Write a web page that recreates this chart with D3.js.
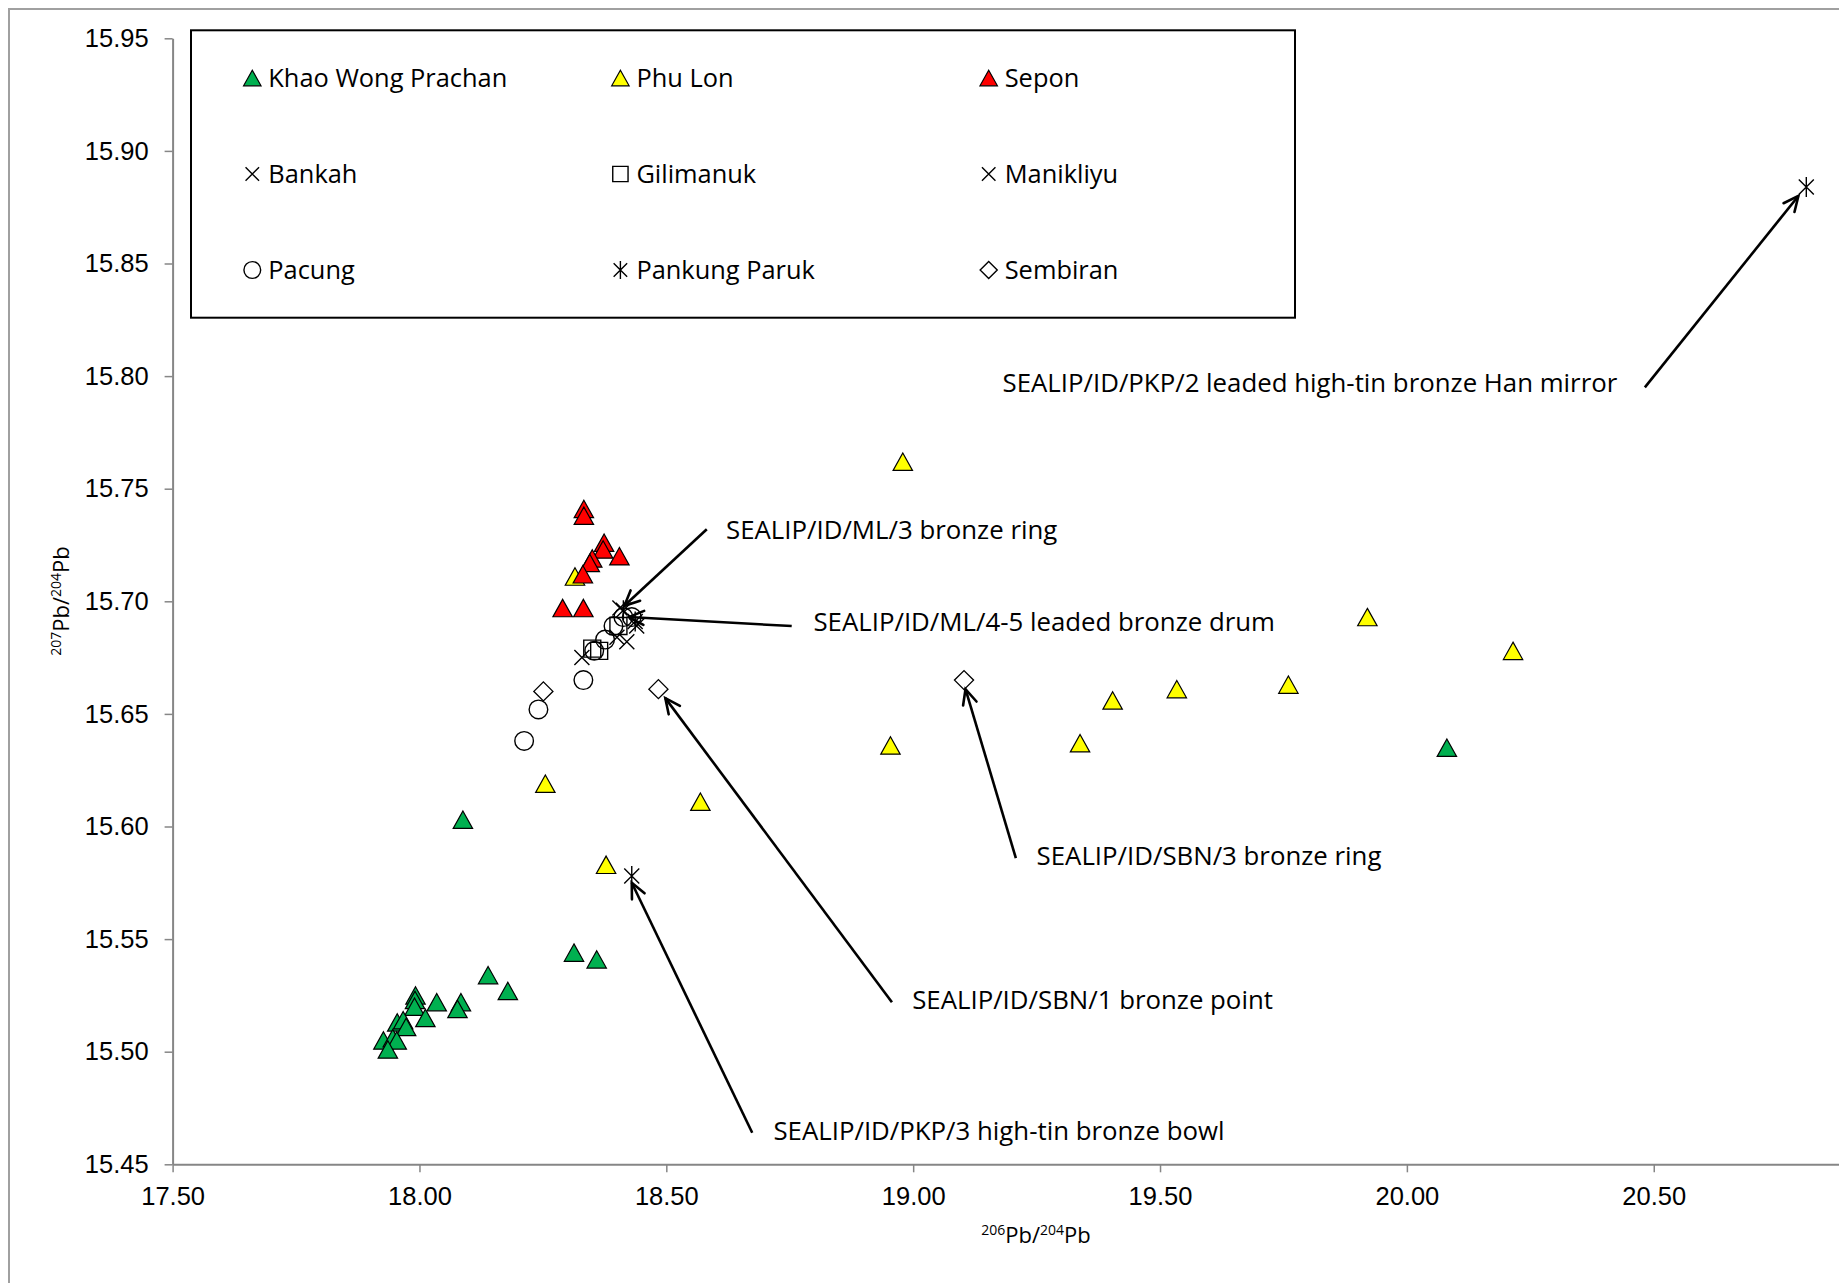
<!DOCTYPE html>
<html><head><meta charset="utf-8">
<script src="https://cdn.jsdelivr.net/npm/d3@7"></script>
<style>body{margin:0;background:#fff} svg{display:block}</style>
</head><body><svg id="c" width="1839" height="1283"></svg>
<script>
// ---------- data ----------
const xTicks = [17.5, 18.0, 18.5, 19.0, 19.5, 20.0, 20.5];
const yTicks = [15.45, 15.50, 15.55, 15.60, 15.65, 15.70, 15.75, 15.80, 15.85, 15.90, 15.95];

const seriesNames = ["Khao Wong Prachan", "Phu Lon", "Sepon", "Bankah", "Gilimanuk", "Manikliyu", "Pacung", "Pankung Paruk", "Sembiran"];

const khaoWongPrachan = [[20.081,15.635],[18.088,15.603],[18.313,15.544],[18.359,15.541],[18.139,15.534],[18.179,15.527],
  [18.084,15.522],[18.077,15.519],[18.035,15.522],[17.992,15.525],[17.991,15.523],[17.990,15.520],[18.012,15.515],
  [17.955,15.513],[17.967,15.514],[17.973,15.511],[17.927,15.505],[17.946,15.506],[17.954,15.505],[17.936,15.501]];
const phuLon = [[18.979,15.762],[19.920,15.693],[20.215,15.678],[19.760,15.663],[19.534,15.661],[19.404,15.656],
  [19.338,15.637],[18.954,15.636],[18.255,15.619],[18.569,15.611],[18.378,15.583],[18.315,15.711]];
const sepon = [[18.333,15.741],[18.333,15.738],[18.374,15.726],[18.372,15.723],[18.405,15.720],[18.350,15.719],
  [18.345,15.717],[18.331,15.712],[18.290,15.697],[18.332,15.697]];
const bankah = [[18.329,15.675],[18.406,15.697]];
const gilimanuk = [[18.350,15.679],[18.364,15.678],[18.403,15.689]];
const manikliyu = [[18.420,15.682],[18.400,15.684],[18.440,15.689]];
const pacung = [[18.332,15.665],[18.354,15.678],[18.376,15.683],[18.393,15.689],[18.413,15.693],[18.430,15.693],
  [18.241,15.652],[18.212,15.638]];
const pankungParuk = [[18.413,15.696],[18.437,15.691],[18.430,15.578],[20.809,15.884]];
const sembiran = [[18.251,15.660],[18.484,15.661],[19.103,15.665]];

const annotationLabels = [
  "SEALIP/ID/PKP/2 leaded high-tin bronze Han mirror",
  "SEALIP/ID/ML/3 bronze ring",
  "SEALIP/ID/ML/4-5 leaded bronze drum",
  "SEALIP/ID/SBN/1 bronze point",
  "SEALIP/ID/SBN/3 bronze ring",
  "SEALIP/ID/PKP/3 high-tin bronze bowl"
];
// label anchor (data coords), arrow start, arrow tip
const annotationText = [[19.181,15.797],[18.621,15.732],[18.798,15.691],[18.998,15.523],[19.250,15.587],[18.717,15.465]];
const arrowFrom = [[20.482,15.795],[18.582,15.732],[18.754,15.689],[18.957,15.522],[19.208,15.586],[18.674,15.464]];
const arrowTo = [[20.793,15.880],[18.415,15.698],[18.424,15.693],[18.498,15.657],[19.106,15.661],[18.430,15.575]];

// ---------- drawing ----------
const svg = d3.select("#c");
const x = d3.scaleLinear().domain([17.5, 21.0]).range([172.6, 1900.6]);
const y = d3.scaleLinear().domain([15.45, 15.95]).range([1164.3, 38.3]);

const AXIS = "#868686";
const TXT = "'Open Sans', 'Noto Sans', sans-serif";

// outer chart border (extends beyond the image on the right/bottom)
svg.append("rect").attr("x", 9).attr("y", 9).attr("width", 2000).attr("height", 2000)
  .attr("fill", "none").attr("stroke", "#A0A0A0").attr("stroke-width", 2);

// symbol paths
const sym = {
  tri: s => `M0,${-8.7*s}L${9.7*s},${8.7*s}L${-9.7*s},${8.7*s}Z`,
  circ: s => { const r = 9.3*s; return `M${r},0A${r},${r} 0 1,1 ${-r},0A${r},${r} 0 1,1 ${r},0Z`; },
  sq: s => { const h = 8.5*s; return `M${-h},${-h}H${h}V${h}H${-h}Z`; },
  dia: s => { const h = 9.5*s; return `M0,${-h}L${h},0L0,${h}L${-h},0Z`; },
  ex: s => { const h = 7.5*s; return `M${-h},${-h}L${h},${h}M${h},${-h}L${-h},${h}`; },
  ast: s => { const h = 7.5*s, v = 10*s; return `M${-h},${-h}L${h},${h}M${h},${-h}L${-h},${h}M0,${-v}L0,${v}`; }
};
const styles = [
  {data: khaoWongPrachan, shape: "tri", fill: "#00B050", stroke: "#000", sw: 1.2},
  {data: phuLon, shape: "tri", fill: "#FFFF00", stroke: "#000", sw: 1.2},
  {data: sepon, shape: "tri", fill: "#FF0000", stroke: "#000", sw: 1.2},
  {data: bankah, shape: "ex", fill: "none", stroke: "#000", sw: 1.4},
  {data: gilimanuk, shape: "sq", fill: "none", stroke: "#000", sw: 1.4},
  {data: manikliyu, shape: "ex", fill: "none", stroke: "#000", sw: 1.4},
  {data: pacung, shape: "circ", fill: "none", stroke: "#000", sw: 1.4},
  {data: pankungParuk, shape: "ast", fill: "none", stroke: "#000", sw: 1.4},
  {data: sembiran, shape: "dia", fill: "#fff", stroke: "#000", sw: 1.4}
];

// axes
const gx = svg.append("g").attr("transform", `translate(0,${y(15.45)})`)
  .call(d3.axisBottom(x).tickValues(xTicks).tickFormat(d3.format(".2f")).tickSize(8).tickSizeOuter(0).tickPadding(15));
const gy = svg.append("g").attr("transform", `translate(${x(17.5)},0)`)
  .call(d3.axisLeft(y).tickValues(yTicks).tickFormat(d3.format(".2f")).tickSize(8).tickSizeOuter(0).tickPadding(16));
[gx, gy].forEach(g => {
  g.select(".domain").attr("stroke", AXIS).attr("stroke-width", 2);
  g.selectAll(".tick line").attr("stroke", AXIS).attr("stroke-width", 1.5);
  g.selectAll(".tick text").attr("fill", "#000").style("font-family", "'Liberation Sans', Arial, sans-serif").style("font-size", "25.5px");
});

// axis titles
const xt = svg.append("text").attr("x", 1036).attr("y", 1243).attr("text-anchor", "middle")
  .style("font-family", TXT).style("font-size", "22px").attr("fill", "#000");
xt.append("tspan").text("206").style("font-size", "14px").attr("dy", -8);
xt.append("tspan").text("Pb/").attr("dy", 8);
xt.append("tspan").text("204").style("font-size", "14px").attr("dy", -8);
xt.append("tspan").text("Pb").attr("dy", 8);

const yt = svg.append("text").attr("transform", "translate(69,601) rotate(-90)").attr("text-anchor", "middle")
  .style("font-family", TXT).style("font-size", "22px").attr("fill", "#000");
yt.append("tspan").text("207").style("font-size", "14px").attr("dy", -8);
yt.append("tspan").text("Pb/").attr("dy", 8);
yt.append("tspan").text("204").style("font-size", "14px").attr("dy", -8);
yt.append("tspan").text("Pb").attr("dy", 8);

// points
const plot = svg.append("g");
styles.forEach(st => {
  plot.append("g").selectAll("path").data(st.data).join("path")
    .attr("transform", d => `translate(${x(d[0])},${y(d[1])})`)
    .attr("d", sym[st.shape](1))
    .attr("fill", st.fill).attr("stroke", st.stroke).attr("stroke-width", st.sw);
});

// legend
svg.append("rect").attr("x", 191).attr("y", 30.3).attr("width", 1104).attr("height", 287.4)
  .attr("fill", "#fff").attr("stroke", "#000").attr("stroke-width", 2);
const legCols = [252.3, 620.4, 988.7], legRows = [78, 174, 270];
const leg = svg.append("g").selectAll("g").data(seriesNames).join("g")
  .attr("transform", (d, i) => `translate(${legCols[i % 3]},${legRows[Math.floor(i / 3)]})`);
leg.append("path").attr("d", (d, i) => sym[styles[i].shape](0.9))
  .attr("fill", (d, i) => styles[i].fill).attr("stroke", "#000").attr("stroke-width", (d, i) => styles[i].sw);
leg.append("text").attr("x", 16).attr("dy", "0.36em").text(d => d)
  .style("font-family", TXT).style("font-size", "25.4px").attr("fill", "#000");

// annotations
const defs = svg.append("defs");
defs.append("marker").attr("id", "arr").attr("markerUnits", "userSpaceOnUse")
  .attr("viewBox", "-18 -10 22 20").attr("refX", 0).attr("refY", 0)
  .attr("markerWidth", 22).attr("markerHeight", 20).attr("orient", "auto")
  .append("path").attr("d", "M-15,-7L0,0L-15,7").attr("fill", "none").attr("stroke", "#000")
  .attr("stroke-width", 2.6).attr("stroke-linecap", "round").attr("stroke-linejoin", "miter");

const ann = svg.append("g");
annotationLabels.forEach((lab, i) => {
  ann.append("line").attr("x1", x(arrowFrom[i][0])).attr("y1", y(arrowFrom[i][1]))
    .attr("x2", x(arrowTo[i][0])).attr("y2", y(arrowTo[i][1]))
    .attr("stroke", "#000").attr("stroke-width", 2.6).attr("marker-end", "url(#arr)");
  ann.append("text").attr("x", x(annotationText[i][0])).attr("y", y(annotationText[i][1]))
    .attr("dy", "0.36em").text(lab)
    .style("font-family", TXT).style("font-size", "25.8px").attr("fill", "#000");
});
</script></body></html>
